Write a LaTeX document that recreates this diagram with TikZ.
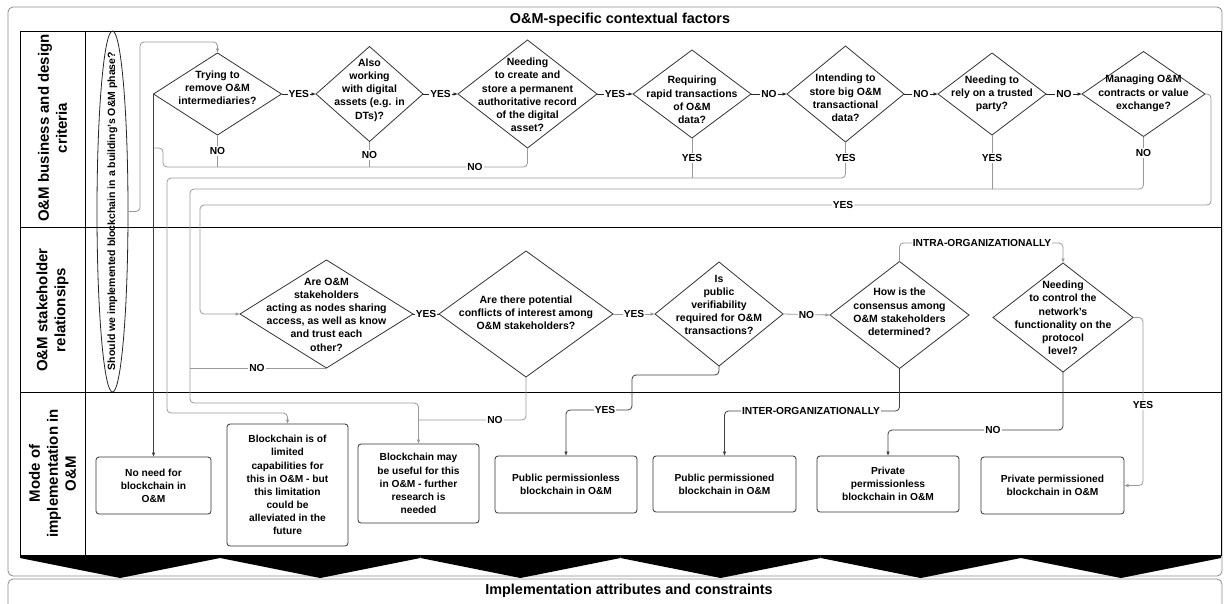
\documentclass[tikz,border=0pt]{standalone}
\usepackage{fontspec}
\setmainfont{Liberation Sans}
\usetikzlibrary{shapes.geometric,arrows.meta}
\newcommand\dfont{\bfseries\fontsize{10.5}{13.2}\selectfont}
\newcommand\bfnt{\bfseries\fontsize{10.2}{13.1}\selectfont}
\newcommand\lfont{\bfseries\fontsize{10.2}{12}\selectfont}
\newcommand\lanefont{\bfseries\fontsize{15}{18}\selectfont}
\newcommand\titlefont{\bfseries\fontsize{14.4}{17}\selectfont}
\newcommand\efont{\bfseries\fontsize{10.5}{12}\selectfont}
\begin{document}
\begin{tikzpicture}[x=1pt,y=-1pt,
  frame/.style={draw=black!45, line width=0.8pt, rounded corners=5pt},
  pool/.style={draw=black, line width=0.9pt},
  titlet/.style={font=\titlefont, inner sep=0pt, anchor=base},
  lanet/.style={font=\lanefont, rotate=90, align=center, inner sep=0pt},
  dia/.style={diamond, draw=black!80, line width=0.8pt, inner sep=0pt, outer sep=0pt},
  dtext/.style={font=\dfont, align=center, inner sep=0pt},
  box/.style={draw=black!80, line width=0.8pt, rounded corners=3pt, align=center, font=\bfnt, inner sep=2pt, outer sep=0pt},
  lab/.style={font=\lfont, fill=white, inner sep=1pt},
  ah/.style={-{Latex[length=4.5pt,width=3.6pt]}},
  flow/.style={draw=black!85, line width=0.8pt},
  gline/.style={draw=black!40, line width=0.8pt, rounded corners=4pt},
  dline/.style={draw=black!75, line width=0.8pt, rounded corners=4pt}]
\useasboundingbox (0,0) rectangle (1225,603);
\clip (0,0) rectangle (1225,603);
\fill[white] (0,0) rectangle (1225,603);

% frames
\draw[frame] (8,7) rectangle (1222,576);
\node[titlet] (T1) at (620,23.5) {O\&M-specific contextual factors};
\draw[frame] (8,579) rectangle (1222,615);
\node[titlet] (T2) at (629,594) {Implementation attributes and constraints};

% pool and lanes
\draw[pool] (20,31) rectangle (1221,555);
\draw[pool] (20,227) -- (1221,227);
\draw[pool] (20,392) -- (1221,392);
\draw[pool] (85,31) -- (85,555);
\node[lanet] (L1) at (52.5,128) {O\&M business and design\\criteria};
\node[lanet] (L2) at (52.5,310) {O\&M stakeholder\\relationsips};
\node[lanet] (L3) at (52.5,473.5) {Mode of\\implementation in\\O\&M};

% chevrons
\foreach \k in {0,...,5}{
  \fill[black] ({20+200.17*\k},555) -- ({20+200.17*(\k+1)},555) -- ({20+200.17*(\k+1)},558)
    -- ({20+200.17*\k+100.08},578) -- ({20+200.17*\k},558) -- cycle;
}

% start ellipse
\node[ellipse, draw=black!85, line width=0.8pt, minimum width=31pt, minimum height=361pt, inner sep=0pt] (E) at (112.5,211.5) {};
\node[rotate=90, font=\efont, inner sep=0pt] (Et) at (112.5,211) {Should we implemented blockchain in a building's O\&M phase?};

% lane 1 diamonds
\node[dia, minimum width=128pt, minimum height=82pt] (D1) at (217.5,94) {};
\node[dia, minimum width=107pt, minimum height=95pt] (D2) at (369.5,94) {};
\node[dia, minimum width=139pt, minimum height=108pt] (D3) at (527.5,94) {};
\node[dia, minimum width=118pt, minimum height=88pt] (D4) at (692,94) {};
\node[dia, minimum width=117pt, minimum height=96pt] (D5) at (845.5,94) {};
\node[dia, minimum width=108pt, minimum height=82pt] (D6) at (992,94) {};
\node[dia, minimum width=123pt, minimum height=85pt] (D7) at (1143.5,94) {};
\node[dtext] (D1t) at (217.5,88) {Trying to\\remove O\&M\\intermediaries?};
\node[dtext] (D2t) at (369.5,90) {Also\\working\\with digital\\assets (e.g. in\\DTs)?};
\node[dtext] (D3t) at (527.5,95) {Needing\\to create and\\store a permanent\\authoritative record\\of the digital\\asset?};
\node[dtext] (D4t) at (692,100) {Requiring\\rapid transactions\\of O\&M\\data?};
\node[dtext] (D5t) at (845.5,98) {Intending to\\store big O\&M\\transactional\\data?};
\node[dtext] (D6t) at (992,94) {Needing to\\rely on a trusted\\party?};
\node[dtext] (D7t) at (1143.5,93.5) {Managing O\&M\\contracts or value\\exchange?};

% lane 2 diamonds
\node[dia, minimum width=173pt, minimum height=108pt] (S1) at (326.5,314) {};
\node[dia, minimum width=174pt, minimum height=126pt] (S2) at (526,314) {};
\node[dia, minimum width=128pt, minimum height=104pt] (S3) at (719,314) {};
\node[dia, minimum width=139pt, minimum height=107pt] (S4) at (899.5,315) {};
\node[dia, minimum width=140pt, minimum height=109pt] (S5) at (1063,317.5) {};
\node[dtext] (S1t) at (326.5,314.5) {Are O\&M\\stakeholders\\acting as nodes sharing\\access, as well as know\\and trust each\\other?};
\node[dtext] (S2t) at (526,313) {Are there potential\\conflicts of interest among\\O\&M stakeholders?};
\node[dtext] (S3t) at (719,305) {Is\\public\\verifiability\\required for O\&M\\transactions?};
\node[dtext] (S4t) at (899.5,312) {How is the\\consensus among\\O\&M stakeholders\\determined?};
\node[dtext] (S5t) at (1063,318) {Needing\\to control the\\network's\\functionality on the\\protocol\\level?};

% lane 3 boxes
\node[box, minimum width=115pt, minimum height=57pt] (B1) at (153.5,485.5) {No need for\\blockchain in\\O\&M};
\node[box, minimum width=121pt, minimum height=122pt] (B2) at (287.5,485) {Blockchain is of\\limited\\capabilities for\\this in O\&M - but\\this limitation\\could be\\alleviated in the\\future};
\node[box, minimum width=121pt, minimum height=79pt] (B3) at (418.5,483.5) {Blockchain may\\be useful for this\\in O\&M - further\\research is\\needed};
\node[box, minimum width=142pt, minimum height=57pt] (B4) at (566,484.5) {Public permissionless\\blockchain in O\&M};
\node[box, minimum width=143pt, minimum height=56pt] (B5) at (724.5,484) {Public permissioned\\blockchain in O\&M};
\node[box, minimum width=142pt, minimum height=56pt] (B6) at (888,484) {Private\\permissionless\\blockchain in O\&M};
\node[box, minimum width=143pt, minimum height=57pt] (B7) at (1052.5,485.5) {Private permissioned\\blockchain in O\&M};

% lane 1 connectors
\draw[gline, ah] (E.east) -- (140,211.5) -- (140,42) -- (217.5,42) -- (D1.north);
\draw[flow, ah] (D1.east) -- node[lab] (y1) {YES} (D2.west);
\draw[flow, ah] (D2.east) -- node[lab] (y2) {YES} (D3.west);
\draw[flow, ah] (D3.east) -- node[lab] (y3) {YES} (D4.west);
\draw[flow, ah] (D4.east) -- node[lab] (n4) {NO} (D5.west);
\draw[flow, ah] (D5.east) -- node[lab] (n5) {NO} (D6.west);
\draw[flow, ah] (D6.east) -- node[lab] (n6) {NO} (D7.west);

\draw[gline] (D3.south) -- (527.5,167) -- (163,167) -- (163,148) -- (153.5,148);
\draw[gline] (D1.south) -- (217.5,167);
\draw[gline] (D2.south) -- (369.5,167);
\node[lab] (n1) at (217.5,151) {NO};
\node[lab] (n2) at (369.5,155) {NO};
\node[lab] (n3) at (475,167) {NO};
\draw[dline, ah] (D1.west) -- (B1.north);

\draw[gline, ah] (D5.south) -- (845.5,178) -- (167,178) -- (167,413) -- (287.5,413) -- (B2.north);
\draw[gline] (D4.south) -- (692,178);
\node[lab] (y4) at (692,158) {YES};
\node[lab] (y5) at (845.5,158) {YES};

\draw[gline, ah] (D7.south) -- (1143.5,189) -- (190,189) -- (190,403) -- (418.5,403) -- (B3.north);
\draw[gline] (D6.south) -- (992,189);
\node[lab] (y6) at (992,158) {YES};
\node[lab] (n7) at (1143.5,153) {NO};

\draw[gline, ah] (D7.east) -- (1211,94) -- (1211,205) -- (200,205) -- (200,314) -- (S1.west);
\node[lab] (y7) at (843,205) {YES};

% lane 2 connectors
\draw[gline] (S1.south) -- (190,368);
\node[lab] (n8) at (257,368) {NO};
\draw[flow] (S1.east) -- node[lab] (y8) {YES} (S2.west);
\draw[gline, ah] (S2.east) -- node[lab] (y9) {YES} (S3.west);
\draw[gline, ah] (S3.east) -- node[lab] (n9) {NO} (S4.west);
\draw[gline] (S2.south) -- (526,420) -- (418.5,420);
\node[lab] (n10) at (495,420) {NO};

\draw[dline, ah] (S3.south) -- (719,375) -- (632,375) -- (632,410) -- (566,410) -- (B4.north);
\node[lab] (y10) at (605,410) {YES};
\draw[gline, ah] (S4.north) -- (899.5,243) -- (1063,243) -- (S5.north);
\node[lab] (t1) at (982,243) {INTRA-ORGANIZATIONALLY};
\draw[dline, ah] (S4.south) -- (899.5,411) -- (724.5,411) -- (B5.north);
\node[lab] (t2) at (811,411) {INTER-ORGANIZATIONALLY};
\draw[dline, ah] (S5.south) -- (1063,430) -- (888,430) -- (B6.north);
\node[lab] (n11) at (993,430) {NO};
\draw[gline, ah] (S5.east) -- (1143,317.5) -- (1143,485.5) -- (B7.east);
\node[lab] (y11) at (1143,405) {YES};
\end{tikzpicture}
\end{document}
